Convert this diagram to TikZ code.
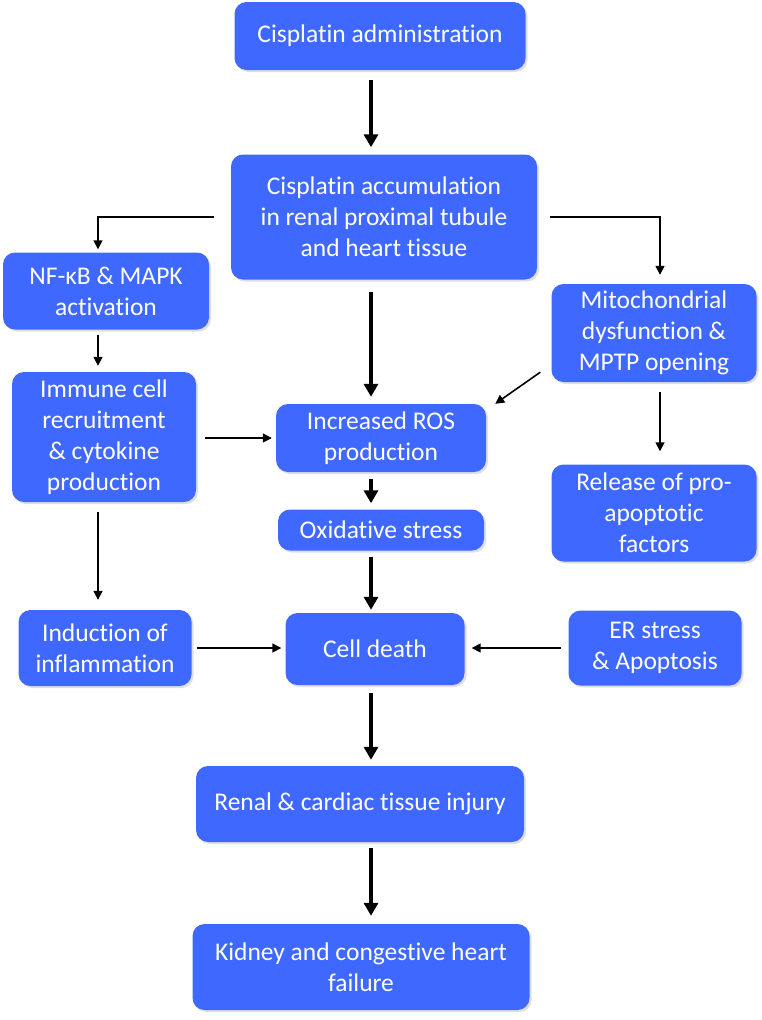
\documentclass[tikz,border=0pt]{standalone}
\usepackage{fontspec}
\setmainfont{Carlito}[Ligatures=NoCommon]
\usetikzlibrary{arrows.meta,shadows}
\definecolor{boxblue}{RGB}{62,104,255}

\tikzset{
  box/.style={fill=boxblue, text=white, rounded corners=12pt, align=center,
    inner sep=0pt, font=\fontsize{25.5}{31}\selectfont,
    drop shadow={shadow xshift=2pt, shadow yshift=-2pt, opacity=0.25}},
  bigarrow/.style={-{Triangle[length=13pt,width=14pt]}, line width=4pt},
  smallarrow/.style={-{Triangle[length=9pt,width=9pt]}, line width=1.6pt},
}

\begin{document}
\begin{tikzpicture}[x=1pt, y=-1pt]
  \useasboundingbox (0,0) rectangle (762,1020);

  % columns for the connectors
  \coordinate (spine) at (371,0);
  \coordinate (lcol) at (98,0);
  \coordinate (rcol) at (660,0);

  % middle column
  \node[box, minimum width=291, minimum height=68] (admin) at (380,36) {Cisplatin administration};
  \node[box, minimum width=306, minimum height=125] (accum) at (384,217) {Cisplatin accumulation\\in renal proximal tubule\\and heart tissue};
  \node[box, minimum width=210, minimum height=68] (ros) at (381,438) {Increased ROS\\production};
  \node[box, minimum width=206, minimum height=41] (oxid) at (381,530) {Oxidative stress};
  \node[box, minimum width=179, minimum height=72] (death) at (375,649) {Cell death};
  \node[box, minimum width=328, minimum height=76] (injury) at (360,804) {Renal \& cardiac tissue injury};
  \node[box, minimum width=337, minimum height=86] (failure) at (361,967) {Kidney and congestive heart\\failure};

  % left column
  \node[box, minimum width=206, minimum height=77] (nfkb) at (106,291) {NF-κB \& MAPK\\activation};
  \node[box, minimum width=184, minimum height=130] (immune) at (104,437) {Immune cell\\recruitment\\\& cytokine\\production};
  \node[box, minimum width=173, minimum height=76] (inflam) at (105,648) {Induction of\\inflammation};

  % right column
  \node[box, minimum width=205, minimum height=98] (mito) at (654,333) {Mitochondrial\\dysfunction \&\\MPTP opening};
  \node[box, minimum width=205, minimum height=97] (release) at (654,513) {Release of pro-\\apoptotic\\factors};
  \node[box, minimum width=173, minimum height=75] (er) at (655,648) {ER stress\\\& Apoptosis};

  % main pathway
  \draw[bigarrow, shorten <=10pt, shorten >=7pt] (admin.south -| spine) -- (accum.north -| spine);
  \draw[bigarrow, shorten <=12pt, shorten >=7pt] (accum.south -| spine) -- (ros.north -| spine);
  \draw[bigarrow, shorten <=7pt, shorten >=6pt] (ros.south -| spine) -- (oxid.north -| spine);
  \draw[bigarrow, shorten <=6pt, shorten >=3pt] (oxid.south -| spine) -- (death.north -| spine);
  \draw[bigarrow, shorten <=8pt, shorten >=6pt] (death.south -| spine) -- (injury.north -| spine);
  \draw[bigarrow, shorten <=6pt, shorten >=8pt] (injury.south -| spine) -- (failure.north -| spine);

  % side branches
  \draw[smallarrow, shorten >=3pt] ([xshift=-17pt]accum.west) -| (nfkb.north -| lcol);
  \draw[smallarrow, shorten >=9pt] ([xshift=13pt]accum.east) -| (mito.north -| rcol);
  \draw[smallarrow, shorten <=5pt, shorten >=6pt] (nfkb.south -| lcol) -- (immune.north -| lcol);
  \draw[smallarrow, shorten <=10pt, shorten >=10pt] (immune.south -| lcol) -- (inflam.north -| lcol);
  \draw[smallarrow, shorten <=9pt, shorten >=4pt] (immune.east |- ros.west) -- (ros.west);
  \draw[smallarrow] ([shift={(-11,-10)}]mito.south west) -- ([shift={(9,0)}]ros.north east);
  \draw[smallarrow, shorten <=10pt, shorten >=13pt] (mito.south -| rcol) -- (release.north -| rcol);
  \draw[smallarrow, shorten <=5pt, shorten >=4pt] (inflam.east) -- (death.west |- inflam.east);
  \draw[smallarrow, shorten <=7pt, shorten >=7pt] (er.west) -- (death.east |- er.west);
\end{tikzpicture}
\end{document}
